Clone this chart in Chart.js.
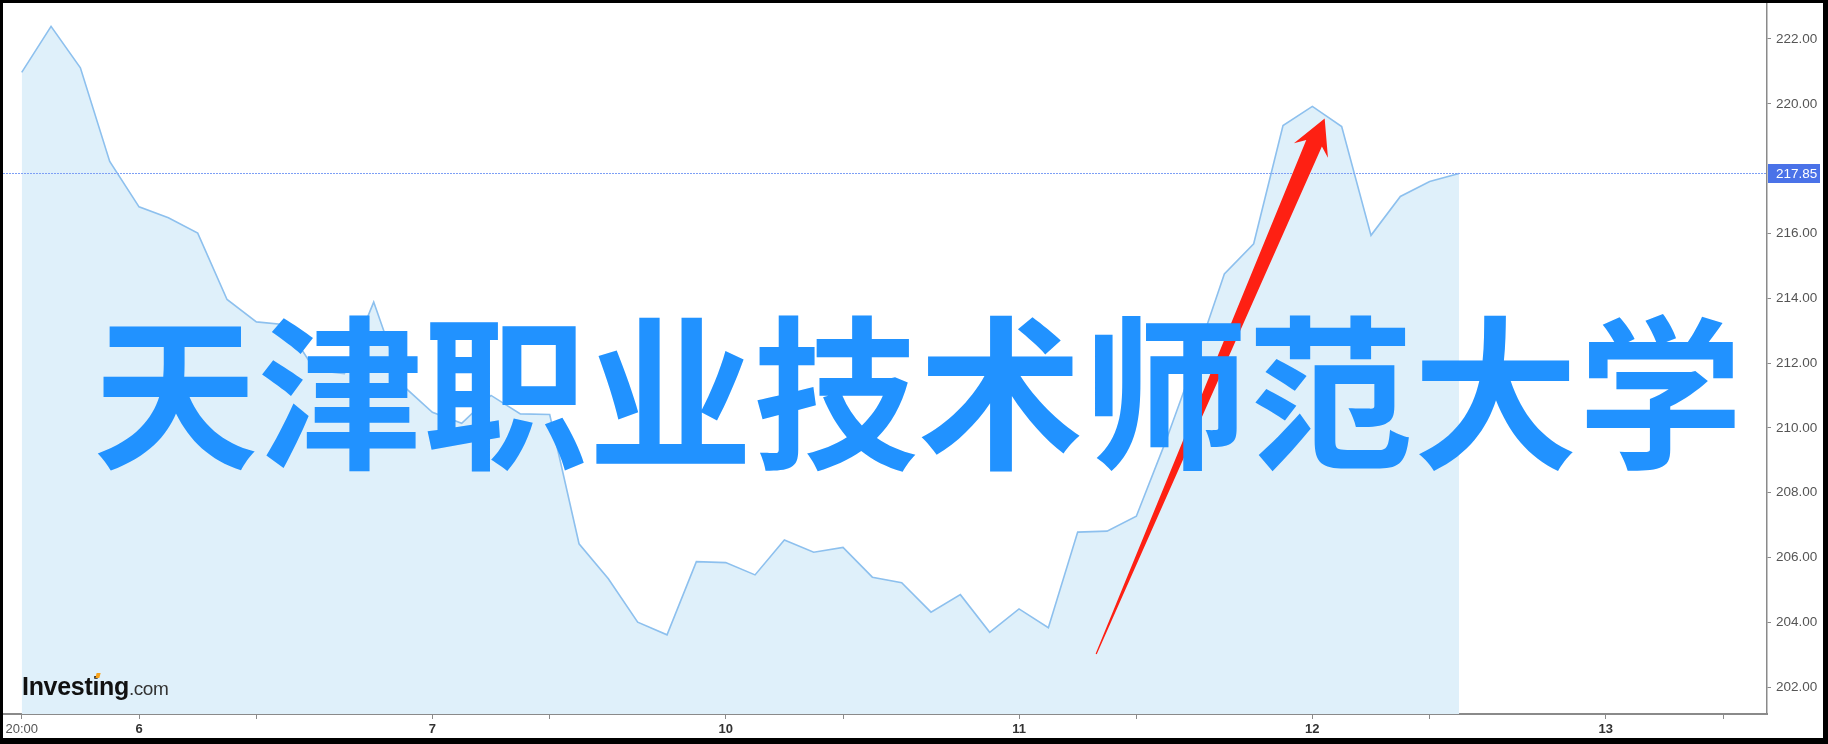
<!DOCTYPE html>
<html>
<head>
<meta charset="utf-8">
<script src="https://cdn.jsdelivr.net/npm/chart.js@4.4.1/dist/chart.umd.min.js"></script>
<style>
  html, body { margin: 0; padding: 0; background: #000; }
  body { width: 1828px; height: 744px; position: relative; overflow: hidden; }
  #frame { position: absolute; left: 3px; top: 3px; width: 1820px; height: 735px; background: #fff; }
  #c { position: absolute; left: 0; top: 0; }
  #logo { position: absolute; left: 19px; top: 671px; font-family: 'Liberation Sans', Arial, sans-serif;
          font-weight: bold; font-size: 25px; line-height: 25px; color: #111; white-space: nowrap; letter-spacing: -0.3px; }
  #logo span { font-weight: normal; font-size: 19px; color: #333; letter-spacing: -0.5px; }
  #logodot { position: absolute; left: 93px; top: 670px; width: 4px; height: 5px; background: #f7a21b; transform: skewX(-15deg); }
  #wm { position: absolute; left: 90px; top: 299px; font-family: 'Noto Sans CJK SC', sans-serif; font-weight: 700;
        font-size: 165px; line-height: 165px; color: #2192ff; white-space: nowrap; }
</style>
</head>
<body>
<div id="frame">
  <canvas id="c" width="1820" height="735"></canvas>
  <div id="logo">Investing<span>.com</span></div>
  <div id="logodot"></div>
  <div id="wm">天津职业技术师范大学</div>
</div>
<script>
// ---- data ----
const prices = [
  220.97, 222.39, 221.11, 218.22, 216.82, 216.48, 216.01, 213.96, 213.27, 213.18,
  211.78, 211.67, 213.88, 211.30, 210.48, 210.14, 211.00, 210.43, 210.41, 206.42,
  205.34, 204.00, 203.61, 205.87, 205.84, 205.46, 206.54, 206.16, 206.31, 205.39,
  205.22, 204.31, 204.85, 203.69, 204.41, 203.83, 206.78, 206.81, 207.27, 209.58,
  212.08, 214.75, 215.68, 219.33, 219.92, 219.30, 215.94, 217.14, 217.60, 217.85
];
const xTickValues = [0, 4, 8, 14, 18, 24, 28, 34, 38, 44, 48, 54, 58];
const xTickLabels = ['20:00', '6', '', '7', '', '10', '', '11', '', '12', '', '13', ''];
const yTickValues = [202, 204, 206, 208, 210, 212, 214, 216, 220, 222];
const lastPriceLabel = '217.85';
// annotation arrow in data coordinates (hour index, price)
const arrowTail = { x: 36.63, y: 203.02 };
const arrowTip = { x: 44.42, y: 219.55 };

const FONT = "'Liberation Sans', Arial, sans-serif";

const points = prices.map((v, i) => ({ x: i, y: v }));

const lastPricePlugin = {
  id: 'lastPrice',
  afterDatasetsDraw(chart) {
    const ctx = chart.ctx, ca = chart.chartArea, ys = chart.scales.y;
    const last = prices[prices.length - 1];
    const y = Math.round(ys.getPixelForValue(last)) + 0.5;
    ctx.save();
    ctx.strokeStyle = '#7d9ff5';
    ctx.lineWidth = 1;
    ctx.setLineDash([2, 1]);
    ctx.beginPath();
    ctx.moveTo(ca.left, y);
    ctx.lineTo(ca.right, y);
    ctx.stroke();
    ctx.setLineDash([]);
    ctx.fillStyle = '#4a72e8';
    ctx.fillRect(ca.right + 1, y - 9.5, chart.width - ca.right - 4, 19);
    ctx.fillStyle = '#ffffff';
    ctx.font = '13.5px ' + FONT;
    ctx.textBaseline = 'middle';
    ctx.textAlign = 'left';
    ctx.fillText(lastPriceLabel, ca.right + 9, y + 0.5);
    ctx.restore();
  }
};

const arrowPlugin = {
  id: 'arrow',
  afterDatasetsDraw(chart) {
    const ctx = chart.ctx, xs = chart.scales.x, ys = chart.scales.y;
    const p0 = { x: xs.getPixelForValue(arrowTail.x), y: ys.getPixelForValue(arrowTail.y) };
    const p1 = { x: xs.getPixelForValue(arrowTip.x), y: ys.getPixelForValue(arrowTip.y) };
    const dx = p1.x - p0.x, dy = p1.y - p0.y, len = Math.hypot(dx, dy);
    const u = { x: dx / len, y: dy / len };
    const n = { x: -u.y, y: u.x };
    const pt = (a, b) => [p1.x + u.x * a + n.x * b, p1.y + u.y * a + n.y * b];
    const poly = [
      [p0.x - n.x * 0.6, p0.y - n.y * 0.6],
      pt(-27, -8.5), pt(-35, -18.5), [p1.x, p1.y], pt(-35, 18.5), pt(-27, 8.5),
      [p0.x + n.x * 0.6, p0.y + n.y * 0.6]
    ];
    ctx.save();
    ctx.fillStyle = '#fe2013';
    ctx.beginPath();
    poly.forEach((p, i) => i ? ctx.lineTo(p[0], p[1]) : ctx.moveTo(p[0], p[1]));
    ctx.closePath();
    ctx.fill();
    ctx.restore();
  }
};

new Chart(document.getElementById('c'), {
  type: 'line',
  data: {
    datasets: [{
      data: points,
      borderColor: '#8dc0ee',
      borderWidth: 1.6,
      backgroundColor: '#dff0fa',
      fill: 'start',
      tension: 0,
      pointRadius: 0
    }]
  },
  options: {
    responsive: false,
    animation: false,
    events: [],
    layout: { padding: 0 },
    plugins: { legend: { display: false }, tooltip: { enabled: false } },
    scales: {
      x: {
        type: 'linear',
        position: 'bottom',
        min: -0.638,
        max: 59.5,
        afterBuildTicks: s => { s.ticks = xTickValues.map(v => ({ value: v })); },
        afterFit: s => { s.height = 24; s.paddingLeft = 0; s.paddingRight = 0; s.paddingTop = 0; s.paddingBottom = 0; },
        ticks: {
          autoSkip: false,
          maxRotation: 0,
          padding: 3,
          callback: (v, i) => xTickLabels[i],
          font: c => ({ family: FONT, size: 13, weight: (c.tick && c.tick.value === 0) ? 'normal' : 'bold' }),
          color: c => (c.tick && c.tick.value === 0) ? '#555' : '#333'
        },
        grid: { drawOnChartArea: false, drawTicks: true, tickLength: 5, color: '#8a8a8a', tickWidth: 1 },
        border: { display: true, color: '#8a8a8a', width: 2 }
      },
      y: {
        type: 'linear',
        position: 'right',
        min: 201.167,
        max: 223.111,
        afterBuildTicks: s => { s.ticks = yTickValues.map(v => ({ value: v })); },
        afterFit: s => { s.width = 56; s.paddingLeft = 0; s.paddingRight = 0; s.paddingTop = 0; s.paddingBottom = 0; },
        ticks: {
          padding: 5,
          callback: v => Number(v).toFixed(2),
          font: { family: FONT, size: 13.5 },
          color: '#555'
        },
        grid: { drawOnChartArea: false, drawTicks: true, tickLength: 4, color: '#8a8a8a', tickWidth: 1 },
        border: { display: true, color: '#8a8a8a', width: 1.5 }
      }
    }
  },
  plugins: [lastPricePlugin, arrowPlugin]
});
</script>
</body>
</html>
